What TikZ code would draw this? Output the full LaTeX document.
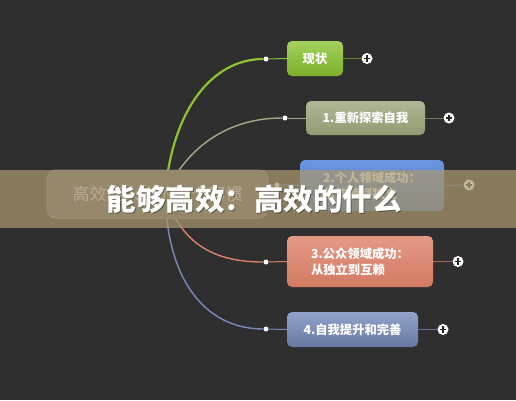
\documentclass[tikz,border=0pt]{standalone}
\usepackage{fontspec}
\newfontfamily\cjk{Noto Sans CJK SC}
\definecolor{bgc}{RGB}{47,47,47}
\definecolor{bannerc}{RGB}{170,152,112}
\definecolor{cgreen}{RGB}{140,196,50}
\definecolor{colive}{RGB}{160,172,128}
\definecolor{cblue}{RGB}{90,140,225}
\definecolor{csalmon}{RGB}{222,128,104}
\definecolor{cslate}{RGB}{120,140,190}
\definecolor{cfill}{RGB}{96,96,96}
\definecolor{cedge}{RGB}{125,125,125}
\begin{document}
\begin{tikzpicture}[x=1pt,y=-1pt,
  box/.style={rounded corners=5pt, minimum height=35pt, text=white,
    font=\cjk\bfseries\fontsize{12.3}{16}\selectfont, inner sep=0pt},
  dotnode/.style={circle, fill=white, inner sep=0pt, minimum size=5pt},
  plusnode/.style={circle, fill=white, inner sep=0pt, minimum size=11pt,
    path picture={\draw[line width=1.3pt, black!85]
      ([xshift=-3.2pt]path picture bounding box.center) -- ([xshift=3.2pt]path picture bounding box.center)
      ([yshift=-3.2pt]path picture bounding box.center) -- ([yshift=3.2pt]path picture bounding box.center);}},
  thin/.style={line width=1pt},
]
\useasboundingbox (0,0) rectangle (516,400);
\fill[bgc] (0,0) rectangle (516,400);

\coordinate (o) at (165,195);

% dots
\node[dotnode] (d0) at (266,59) {};
\node[dotnode] (d1) at (285,118) {};
\node[dotnode] (d2) at (277,185) {};
\node[dotnode] (d3) at (266,262) {};
\node[dotnode] (d4) at (266,329) {};

% curves
\draw[cgreen, line width=2.2pt] (o) .. controls (172,110) and (212,59) .. (d0);
\draw[colive, line width=1.4pt] (o) .. controls (185,150) and (225,118) .. (d1);
\draw[cblue, line width=1.4pt] (o) .. controls (220,190) and (250,185) .. (d2);
\draw[csalmon, line width=1.4pt] (o) .. controls (182,245) and (215,262) .. (d3);
\draw[cslate, line width=1.4pt] (o) .. controls (168,290) and (212,329) .. (d4);

% boxes
\node[box, minimum width=56pt, top color=cgreen!80!white, bottom color=cgreen!90!black] (n0) at (315,58.5) {现状};
\node[box, minimum width=119pt, minimum height=34pt, top color=colive!85!white, bottom color=colive!90!black] (n1) at (365.5,118) {1.重新探索自我};
\node[box, minimum width=144pt, minimum height=51pt, top color=cblue!90!white, bottom color=cblue!80!black, align=left] (n2) at (372,185.5) {2.个人领域成功：\\从依赖到独立};
\node[box, minimum width=146pt, minimum height=51pt, top color=csalmon!80!white, bottom color=csalmon!95!black, align=left] (n3) at (360,261.5) {3.公众领域成功：\\从独立到互赖};
\node[box, minimum width=131pt, minimum height=35pt, top color=cslate!80!white, bottom color=cslate!85!black] (n4) at (352.5,329.5) {4.自我提升和完善};

% plus
\node[plusnode] (p0) at (367,58.5) {};
\node[plusnode] (p1) at (449,118) {};
\node[plusnode] (p2) at (469,185) {};
\node[plusnode] (p3) at (458,261.5) {};
\node[plusnode] (p4) at (443,329.5) {};

\draw[thin, cgreen] (d0) -- (n0.west);
\draw[thin, cgreen!70!black] (n0.east) -- (p0);
\draw[thin, colive] (d1) -- (n1.west);
\draw[thin, colive!70!black] (n1.east) -- (p1);
\draw[thin, cblue] (d2) -- (n2.west);
\draw[thin, cblue!70!black] (n2.east) -- (p2);
\draw[thin, csalmon] (d3) -- (n3.west);
\draw[thin, csalmon!80!black] (n3.east) -- (p3);
\draw[thin, cslate] (d4) -- (n4.west);
\draw[thin, cslate!80!black] (n4.east) -- (p4);

% central node
\node[rounded corners=9pt, minimum width=221pt, minimum height=48pt, fill=cfill, draw=cedge, line width=1pt,
  text=white!88!black, font=\cjk\fontsize{17}{20}\selectfont] (c) at (157.5,194) {高效能人士的七个习惯};

% banner
\fill[bannerc, opacity=0.72] (0,170) rectangle (516,228);

% title
\node[text=black, opacity=0.35, font=\cjk\bfseries\fontsize{29.5}{32}\selectfont] at (255,200) {能够高效：高效的什么};
\node[text=white, font=\cjk\bfseries\fontsize{29.5}{32}\selectfont] (title) at (254,199) {能够高效：高效的什么};
\end{tikzpicture}
\end{document}
